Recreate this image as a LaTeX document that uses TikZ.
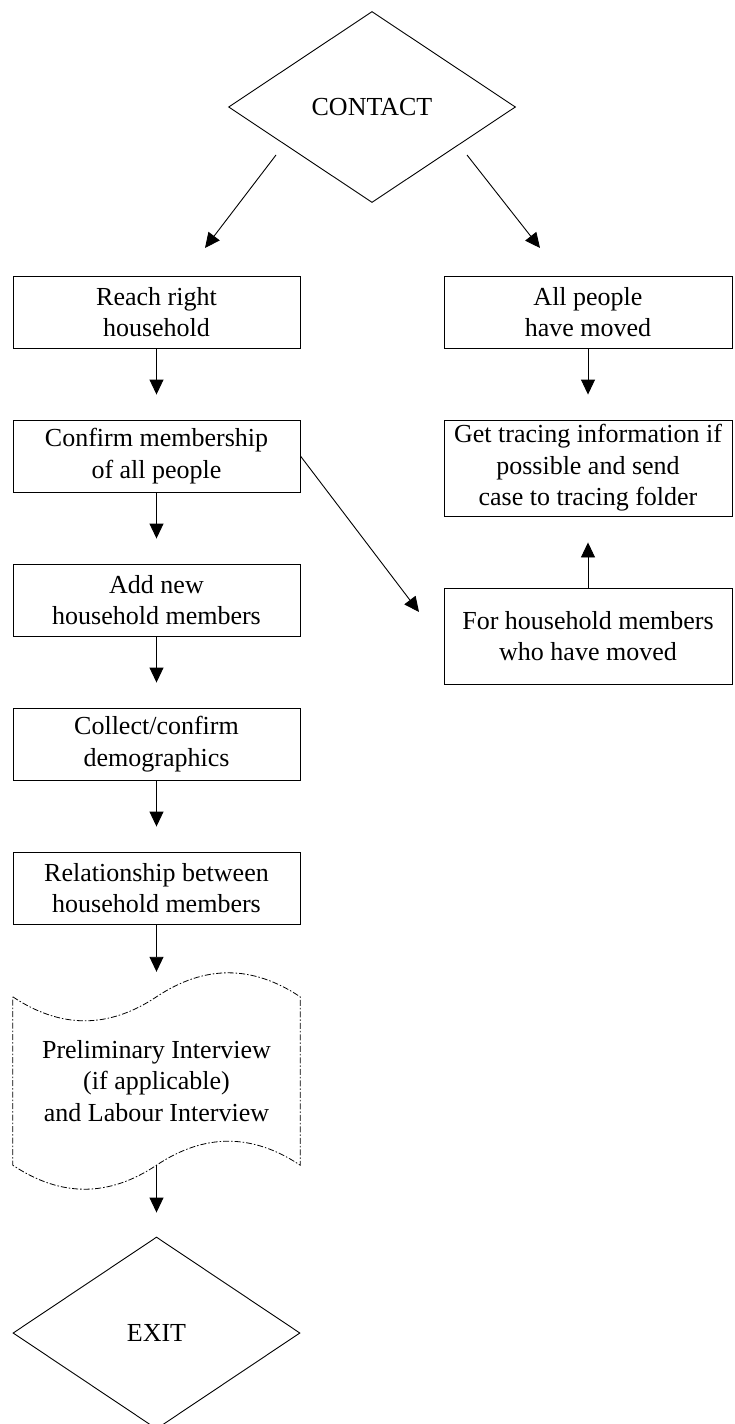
\documentclass[tikz,border=0pt]{standalone}
\usepackage{fontspec}
\setmainfont{Liberation Serif}
\usetikzlibrary{shapes.geometric,arrows.meta}
\begin{document}
\begin{tikzpicture}[x=1pt,y=-1pt,
  every node/.style={font=\fontsize{26}{31.5}\selectfont},
  box/.style={draw, line width=0.9pt, rectangle, inner sep=0pt, minimum width=287pt, minimum height=72pt, align=center},
  tallbox/.style={box, minimum height=96pt},
  dec/.style={draw, line width=0.9pt, diamond, inner sep=0pt, minimum width=287pt, minimum height=191pt, align=center},
  arr/.style={line width=0.9pt, -{Triangle[length=15pt,width=14pt]}},
  wavy/.style={draw, line width=0.8pt, dash pattern=on 6pt off 2pt on 1.5pt off 2pt},
]
\useasboundingbox (0,0) rectangle (735,1424);

\node[dec] (contact) at (372,107) {CONTACT};
\node[box] (reach) at (156.5,312) {Reach right\\household};
\node[box] (confirm) at (156.5,456) {Confirm membership\\of all people};
\node[box] (addnew) at (156.5,600) {Add new\\household members};
\node[box] (collect) at (156.5,744) {Collect/confirm\\demographics};
\node[box] (relation) at (156.5,888) {Relationship between\\household members};
\node[inner sep=0pt, minimum width=287pt, minimum height=168pt, align=center] (prelim) at (156.5,1081) {Preliminary Interview\\(if applicable)\\and Labour Interview};
\node[dec, minimum height=192pt] (exit) at (156.5,1333) {EXIT};
\node[box, minimum width=288pt] (allmoved) at (588,312) {All people\\have moved};
\node[tallbox, minimum width=288pt] (tracing) at (588,468) {Get tracing information if\\possible and send\\case to tracing folder};
\node[tallbox, minimum width=288pt] (hhmoved) at (588,636) {For household members\\who have moved};

\draw[wavy] (prelim.north west) .. controls +(48,32) and +(-48,32) .. (prelim.north)
  .. controls +(48,-32) and +(-48,-32) .. (prelim.north east)
  -- (prelim.south east) .. controls +(-48,-32) and +(48,-32) .. (prelim.south)
  .. controls +(-48,32) and +(48,32) .. (prelim.south west) -- cycle;

\coordinate (cl1) at (276,155);
\coordinate (cl2) at (205,248);
\coordinate (cr1) at (467,155);
\coordinate (cr2) at (540,248);
\coordinate (dg) at (419,612);

\draw[arr] (cl1) -- (cl2);
\draw[arr] (cr1) -- (cr2);
\draw[arr, shorten >=25pt] (reach) -- (confirm);
\draw[arr, shorten >=25pt] (confirm) -- (addnew);
\draw[arr, shorten >=25pt] (addnew) -- (collect);
\draw[arr, shorten >=25pt] (collect) -- (relation);
\draw[arr, shorten >=25pt] (relation) -- (prelim);
\draw[arr, shorten >=24pt] (prelim) -- (exit);
\draw[arr] (confirm.east) -- (dg);
\draw[arr, shorten >=25pt] (allmoved) -- (tracing);
\draw[arr, shorten >=26pt] (hhmoved) -- (tracing);
\end{tikzpicture}
\end{document}
